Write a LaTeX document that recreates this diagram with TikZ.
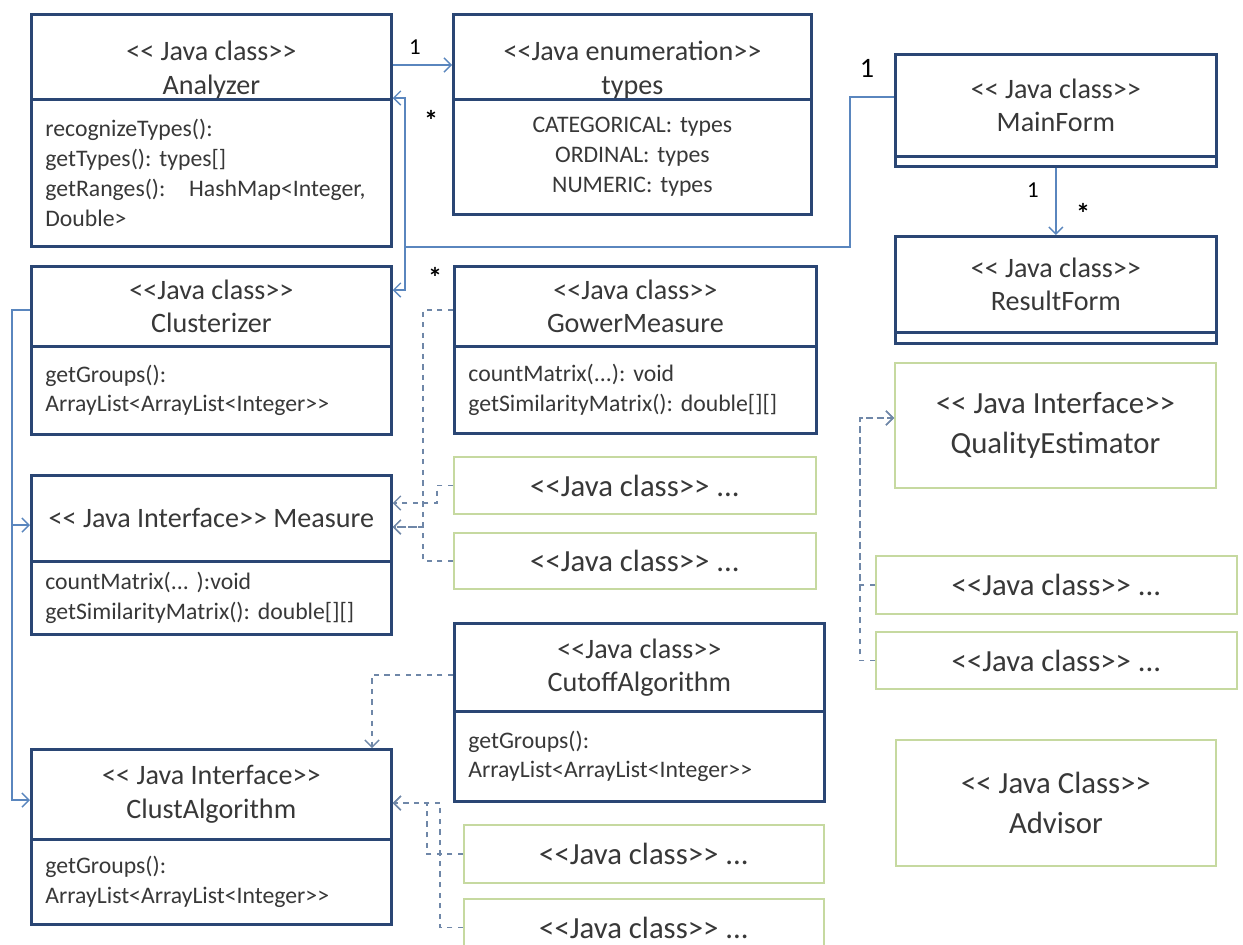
\documentclass[tikz,border=0pt]{standalone}
\usepackage{fontspec}
\setmainfont{Carlito}
\usetikzlibrary{arrows.meta}
\frenchspacing

\definecolor{boxnavy}{HTML}{2A4674}
\definecolor{linkblue}{HTML}{5A86BE}
\definecolor{dashgray}{HTML}{6F87A8}
\definecolor{leafgreen}{HTML}{C6D9A0}
\definecolor{inkgray}{HTML}{383838}

% keep << and >> from turning into guillemets
\newcommand{\stL}{<\kern0pt<}
\newcommand{\stR}{>\kern0pt>}

\tikzset{
  classhead/.style={draw=boxnavy, line width=1.6pt, anchor=north west, inner sep=0pt,
    align=center, text=inkgray, font=\fontsize{16}{19}\selectfont},
  classbody/.style={draw=boxnavy, line width=1.6pt, anchor=north west, inner ysep=0pt,
    inner xsep=0.28cm, align=left, text=inkgray, font=\fontsize{13.5}{17}\selectfont},
  leafbox/.style={draw=leafgreen, line width=1.1pt, anchor=north west, inner sep=0pt,
    align=center, text=inkgray, font=\fontsize{17.5}{23}\selectfont},
  assoc/.style={draw=linkblue, line width=0.8pt, -{Straight Barb[length=4pt,width=8pt]}},
  realize/.style={draw=dashgray, line width=0.8pt, dashed, -{Straight Barb[length=4pt,width=8pt]}},
  mult/.style={text=black, font=\fontsize{13}{15}\selectfont}
}

\begin{document}
\begin{tikzpicture}[x=0.02cm, y=-0.02cm]
    \useasboundingbox[fill=white] (0,0) rectangle (1243,944);

    % left column
    \node[classhead, minimum width=7.2cm, minimum height=1.7cm] (analyzerHead) at (30,13) {\rule{0pt}{26pt}\stL{} Java class\stR\\Analyzer};
    \node[classbody, minimum width=7.2cm, minimum height=2.94cm, text width=6.64cm] (analyzerBody) at (30,98)
        {recognizeTypes():\\getTypes(): types[]\\getRanges():\ \ \ HashMap<Integer,\\Double>};

    \node[classhead, minimum width=7.2cm, minimum height=1.6cm] (clusterHead) at (30,265) {\stL Java class\stR\\Clusterizer};
    \node[classbody, minimum width=7.2cm, minimum height=1.76cm, text width=6.64cm] (clusterBody) at (30,345)
        {getGroups():\\ArrayList<ArrayList<Integer\stR};

    \node[classhead, minimum width=7.2cm, minimum height=1.72cm] (measureHead) at (30,474) {\stL{} Java Interface\stR{} Measure};
    \node[classbody, minimum width=7.2cm, minimum height=1.46cm, text width=6.64cm] (measureBody) at (30,560)
        {countMatrix(... ):void\\getSimilarityMatrix(): double[][]};

    \node[classhead, minimum width=7.2cm, minimum height=1.8cm] (clustalgHead) at (30,748) {\stL{} Java Interface\stR\\ClustAlgorithm};
    \node[classbody, minimum width=7.2cm, minimum height=1.7cm, text width=6.64cm] (clustalgBody) at (30,838)
        {getGroups():\\ArrayList<ArrayList<Integer\stR};

    % middle column
    \node[classhead, minimum width=7.16cm, minimum height=1.7cm] (typesHead) at (452,13) {\rule{0pt}{26pt}\stL Java enumeration\stR\\types};
    \node[classbody, align=center, minimum width=7.16cm, minimum height=2.3cm, text width=6.6cm] (typesBody) at (452,98)
        {CATEGORICAL: types\\ORDINAL: types\\NUMERIC: types};

    \node[classhead, minimum width=7.24cm, minimum height=1.6cm] (gowerHead) at (453,265) {\stL Java class\stR\\GowerMeasure};
    \node[classbody, minimum width=7.24cm, minimum height=1.74cm, text width=6.68cm] (gowerBody) at (453,345)
        {countMatrix(...): void\\getSimilarityMatrix(): double[][]};

    \node[leafbox, minimum width=7.24cm, minimum height=1.14cm] (leafA) at (453,456) {\stL Java class\stR{} ...};
    \node[leafbox, minimum width=7.24cm, minimum height=1.12cm] (leafB) at (453,532) {\stL Java class\stR{} ...};

    \node[classhead, minimum width=7.4cm, minimum height=1.76cm] (cutoffHead) at (453,622) {\stL Java class\stR\\CutoffAlgorithm};
    \node[classbody, minimum width=7.4cm, minimum height=1.8cm, text width=6.84cm] (cutoffBody) at (453,710)
        {getGroups():\\ArrayList<ArrayList<Integer\stR};

    \node[leafbox, minimum width=7.2cm, minimum height=1.16cm] (leafC) at (463,824) {\stL Java class\stR{} ...};
    \node[leafbox, minimum width=7.2cm, minimum height=1.14cm] (leafD) at (463,898) {\stL Java class\stR{} ...};

    % right column
    \node[classhead, minimum width=6.42cm, minimum height=2.04cm] (mainHead) at (894,53) {\stL{} Java class\stR\\MainForm};
    \node[classbody, minimum width=6.42cm, minimum height=0.2cm] (mainBody) at (894,155) {};

    \node[classhead, minimum width=6.42cm, minimum height=1.92cm] (resultHead) at (894,235) {\stL{} Java class\stR\\ResultForm};
    \node[classbody, minimum width=6.42cm, minimum height=0.22cm] (resultBody) at (894,331) {};

    \node[leafbox, minimum width=6.42cm, minimum height=2.5cm] (qualityBox) at (894,362) {\stL{} Java Interface\stR\\QualityEstimator};
    \node[leafbox, minimum width=7.22cm, minimum height=1.16cm] (leafE) at (875,555) {\stL Java class\stR{} ...};
    \node[leafbox, minimum width=7.22cm, minimum height=1.14cm] (leafF) at (875,631) {\stL Java class\stR{} ...};

    \node[leafbox, minimum width=6.4cm, minimum height=2.52cm] (advisorBox) at (895,739) {\stL{} Java Class\stR\\Advisor};

    % associations
    \draw[assoc] (analyzerHead.east |- 0,65) -- (typesHead.west |- 0,65);
    \node[mult] (oneTypes) at (415,47) {1};

    \coordinate (fork) at (405,247);
    \draw[assoc] (mainHead.west |- 0,97) -- (850,97) -- (850,247) -- (fork) -- (405,98) -- (analyzerBody.north east);
    \draw[assoc] (fork) -- (405,290) -- (clusterHead.east |- 0,290);
    \node[mult] (oneMain) at (867,68) {\fontsize{16}{18}\selectfont 1};
    \node[mult] (starAnalyzer) at (431,120) {\fontsize{16}{18}\selectfont\textbf{*}};
    \node[mult] (starCluster) at (435,277) {\fontsize{16}{18}\selectfont\textbf{*}};

    \draw[assoc] (mainBody.south) -- (resultHead.north);
    \node[mult] (oneResult) at (1033,190) {1};
    \node[mult] (starResult) at (1083,213) {\fontsize{16}{18}\selectfont\textbf{*}};

    \coordinate (spine) at (12,525);
    \draw[assoc] (clusterHead.west |- 0,310) -- (12,310) -- (spine) -- (measureHead.west |- spine);
    \draw[assoc] (spine) -- (12,800) -- (clustalgHead.west |- 0,800);

    % realizations
    \draw[realize] (gowerHead.west |- 0,310) -- (423,310) -- (423,527) -- (measureHead.east |- 0,527);
    \draw[realize] (leafB.west) -| (423,527) -- (measureHead.east |- 0,527);
    \draw[realize] (leafA.west) -| (437,503) -- (measureHead.east |- 0,503);

    \draw[realize] (cutoffHead.west |- 0,675) -| (clustalgHead.north -| 372,0);
    \draw[realize] (leafC.west) -| (427,803) -- (clustalgHead.east |- 0,803);
    \draw[realize] (leafD.west) -| (440,803) -- (clustalgHead.east |- 0,803);

    \draw[realize] (leafE.west) -| (860,418) -- (qualityBox.west |- 0,418);
    \draw[realize] (leafF.west) -| (860,418) -- (qualityBox.west |- 0,418);
\end{tikzpicture}
\end{document}
